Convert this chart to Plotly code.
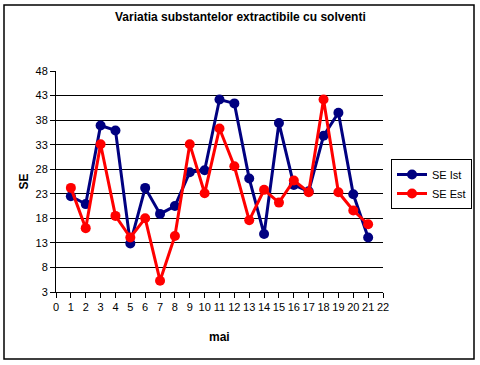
import plotly.graph_objects as go

days = list(range(1, 22))
se_ist = [22.5, 20.9, 36.9, 35.9, 12.9, 24.2, 18.9, 20.5, 27.4, 27.8, 42.2, 41.4,
          26.1, 14.8, 37.4, 24.8, 23.5, 34.8, 39.5, 22.9, 14.1]
se_est = [24.2, 16.0, 33.1, 18.5, 14.1, 18.0, 5.3, 14.4, 33.1, 23.1, 36.3, 28.6,
          17.6, 23.8, 21.2, 25.7, 23.3, 42.2, 23.3, 19.6, 16.8]
y_ticks = [3, 8, 13, 18, 23, 28, 33, 38, 43, 48]
grid_ticks = [8, 13, 18, 23, 28, 33, 38, 43]
x_ticks = list(range(0, 23))

FONT = "Liberation Sans, Arial, sans-serif"

fig = go.Figure()
fig.add_trace(go.Scatter(x=days, y=se_ist, name="SE Ist", mode="lines+markers",
                         line=dict(color="#000080", width=3),
                         marker=dict(color="#000080", size=10)))
fig.add_trace(go.Scatter(x=days, y=se_est, name="SE Est", mode="lines+markers",
                         line=dict(color="#FF0000", width=3),
                         marker=dict(color="#FF0000", size=10)))

fig.update_layout(
    width=480, height=365,
    margin=dict(l=56, r=97, t=71, b=73, autoexpand=False),
    paper_bgcolor="white", plot_bgcolor="white",
    font=dict(family=FONT, size=11, color="black"),
    showlegend=True,
    legend=dict(x=(391 - 56) / 327, y=(292 - 159) / 221, xanchor="left", yanchor="top",
                bordercolor="black", borderwidth=1, bgcolor="white",
                font=dict(size=11), itemwidth=30, tracegroupgap=0),
    xaxis=dict(range=[0, 22], tickvals=x_ticks, ticks="outside", ticklen=5,
               tickcolor="black", showline=True, linecolor="black", linewidth=1,
               showgrid=False, zeroline=False, tickangle=0, tickfont=dict(size=11)),
    yaxis=dict(range=[3, 48], tickvals=y_ticks, ticks="outside", ticklen=5,
               tickcolor="black", showline=True, linecolor="black", linewidth=1,
               showgrid=False, zeroline=False, tickfont=dict(size=11)),
    yaxis2=dict(range=[3, 48], tickvals=grid_ticks, overlaying="y",
                showgrid=True, gridcolor="black", gridwidth=1,
                showticklabels=False, ticks="", zeroline=False, showline=False),
    annotations=[
        dict(text="<b>Variatia substantelor extractibile cu solventi</b>",
             xref="paper", yref="paper", x=(240 - 56) / 327, y=(292 - 17) / 221,
             xanchor="center", yanchor="middle", showarrow=False,
             font=dict(size=12)),
        dict(text="<b>SE</b>", xref="paper", yref="paper",
             x=(23 - 56) / 327, y=0.5, textangle=-90,
             xanchor="center", yanchor="middle", showarrow=False,
             font=dict(size=12)),
        dict(text="<b>mai</b>", xref="paper", yref="paper",
             x=0.5, y=(292 - 337) / 221,
             xanchor="center", yanchor="middle", showarrow=False,
             font=dict(size=12)),
    ],
    shapes=[dict(type="rect", xref="paper", yref="paper",
                 x0=(4 - 56) / 327, x1=(474 - 56) / 327,
                 y0=(292 - 359) / 221, y1=(292 - 5) / 221,
                 line=dict(color="black", width=1.5), layer="below")],
)
fig.add_trace(go.Scatter(x=[None], y=[None], yaxis="y2", showlegend=False,
                         hoverinfo="skip"))

fig.write_html("out.html", config={"displayModeBar": False},
               post_script="document.body.style.margin='0px';document.body.style.padding='0px';")
